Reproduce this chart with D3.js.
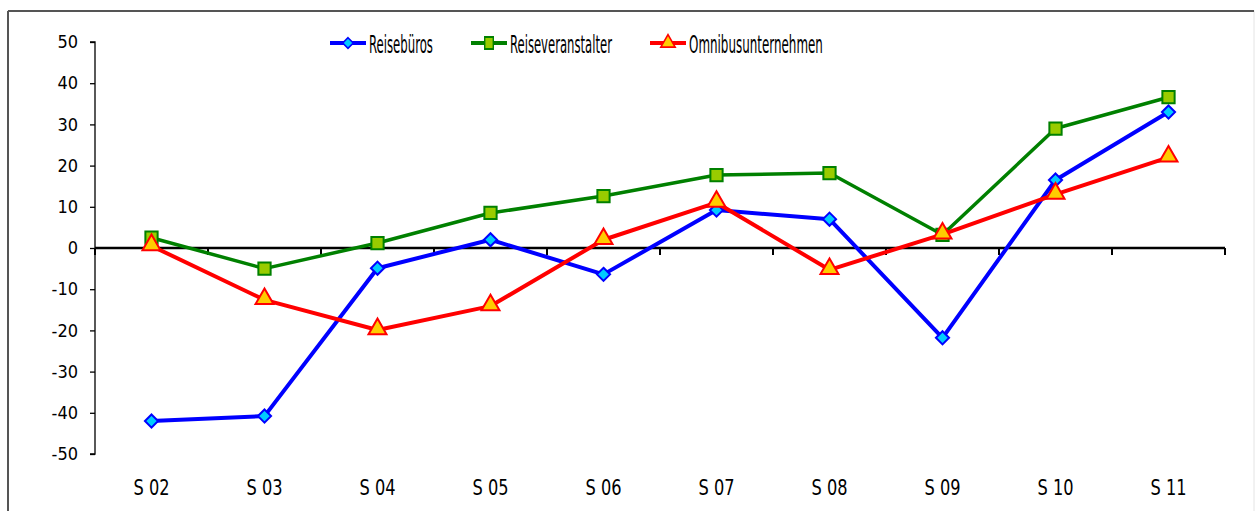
<!DOCTYPE html>
<html lang="de">
<head>
  <meta charset="utf-8">
  <title>Saisonvergleich</title>
  <script src="https://cdn.jsdelivr.net/npm/d3@7/dist/d3.min.js"></script>
  <style>
    body { margin: 0; background: #fff; }
    .narrow { font-family: "DejaVu Sans Condensed", "DejaVu Sans", sans-serif; }
  </style>
</head>
<body>
<svg width="1255" height="511"></svg>
<script>
  // chart data
  var seasons = ["S 02", "S 03", "S 04", "S 05", "S 06", "S 07", "S 08", "S 09", "S 10", "S 11"];
  var reisebueros = [-42, -40.8, -4.9, 2, -6.4, 9.2, 7, -21.8, 16.5, 33];
  var reiseveranstalter = [2.5, -5, 1.2, 8.5, 12.6, 17.7, 18.2, 3.2, 29, 36.6];
  var omnibus = [0.5, -12.6, -19.9, -14.1, 2, 11, -5.3, 3.3, 13, 22];
  var yTicks = [50, 40, 30, 20, 10, 0, -10, -20, -30, -40, -50];

  var series = [
    {name: "Reisebüros", values: reisebueros, color: "#0000ff", fill: "#00ccff", shape: "diamond", width: 4, lx: 330, tl: 64},
    {name: "Reiseveranstalter", values: reiseveranstalter, color: "#008000", fill: "#99cc00", shape: "square", width: 3.5, lx: 471, tl: 102},
    {name: "Omnibusunternehmen", values: omnibus, color: "#ff0000", fill: "#ffcc00", shape: "triangle", width: 4, lx: 650, tl: 134}
  ];

  var svg = d3.select("svg");

  // frame
  svg.append("rect").attr("x", 8).attr("y", 11).attr("width", 1246).attr("height", 520)
      .attr("fill", "none").attr("stroke", "#e4e4e4").attr("stroke-width", 1);
  svg.append("line").attr("x1", 8).attr("x2", 1254).attr("y1", 11).attr("y2", 11)
      .attr("stroke", "#555").attr("stroke-width", 2);
  svg.append("line").attr("x1", 8).attr("x2", 8).attr("y1", 11).attr("y2", 511)
      .attr("stroke", "#555").attr("stroke-width", 2);

  var x = d3.scaleBand().domain(seasons).range([95, 1225]);
  var y = d3.scaleLinear().domain([-50, 50]).range([454, 42]);

  // y axis
  var yAxis = svg.append("g")
      .attr("transform", "translate(95,0)")
      .call(d3.axisLeft(y).tickValues(yTicks).tickSize(5).tickPadding(12).tickFormat(function(d) { return d < 0 ? "-" + Math.abs(d) : d; }));
  yAxis.selectAll("line, path").attr("stroke", "#000").attr("stroke-width", 1.3);
  yAxis.select(".domain").attr("d", "M-5," + y(50) + "H0V" + y(-50) + "H-5");
  yAxis.selectAll("text").attr("font-size", 18).attr("fill", "#000")
      .style("font-family", "'DejaVu Sans Condensed', sans-serif");

  // x axis on the zero line
  var xAxis = svg.append("g")
      .attr("transform", "translate(0," + y(0) + ")")
      .call(d3.axisBottom(x).tickSize(0).tickFormat(""));
  xAxis.select(".domain").attr("d", "M95,0H1225").attr("stroke", "#000").attr("stroke-width", 2.5);
  xAxis.selectAll(".bound").data(seasons.concat(["end"])).enter().append("line")
      .attr("x1", function(d, i) { return 95 + i * x.step(); })
      .attr("x2", function(d, i) { return 95 + i * x.step(); })
      .attr("y1", 0).attr("y2", 7).attr("stroke", "#000").attr("stroke-width", 2);

  // category labels below the plot, squeezed to the narrow look of the original
  svg.append("g").selectAll("text").data(seasons).enter().append("text")
      .attr("class", "narrow")
      .attr("y", 495)
      .attr("font-size", 21)
      .text(function(d) { return d; })
      .each(function(d) {
        var w = this.getComputedTextLength();
        d3.select(this).attr("transform", "translate(" + (x(d) + x.bandwidth() / 2 - 18) + ",0) scale(" + (36 / w) + ",1)");
      });

  var symbols = {
    diamond: d3.symbol().type(d3.symbolDiamond2).size(110),
    square: d3.symbol().type(d3.symbolSquare).size(150),
    triangle: d3.symbol().type(d3.symbolTriangle).size(140)
  };

  var line = d3.line()
      .x(function(d, i) { return x(seasons[i]) + x.bandwidth() / 2; })
      .y(function(d) { return y(d); });

  series.forEach(function(s) {
    var g = svg.append("g");
    g.append("path").datum(s.values)
        .attr("d", line).attr("fill", "none")
        .attr("stroke", s.color).attr("stroke-width", s.width)
        .attr("stroke-linejoin", "round");
    g.selectAll("path.m").data(s.values).enter().append("path")
        .attr("class", "m")
        .attr("d", symbols[s.shape])
        .attr("transform", function(d, i) {
          var dy = s.shape === "triangle" ? -1 : 0;
          return "translate(" + (x(seasons[i]) + x.bandwidth() / 2) + "," + (y(d) + dy) + ")";
        })
        .attr("fill", s.fill).attr("stroke", s.color).attr("stroke-width", 2);
  });

  // legend
  var legend = svg.append("g").selectAll("g").data(series).enter().append("g")
      .attr("transform", function(d) { return "translate(" + d.lx + ",43)"; });
  legend.append("line").attr("x1", 0).attr("x2", 36).attr("y1", 0).attr("y2", 0)
      .attr("stroke", function(d) { return d.color; }).attr("stroke-width", 4);
  legend.append("path")
      .attr("d", function(d) { return symbols[d.shape](); })
      .attr("transform", function(d) { return d.shape === "square" ? "translate(18,0) scale(0.7,1)" : "translate(18,0) scale(0.8)"; })
      .attr("fill", function(d) { return d.fill; })
      .attr("stroke", function(d) { return d.color; }).attr("stroke-width", 2);
  legend.append("text")
      .attr("class", "narrow")
      .attr("y", 1).attr("dy", "0.36em")
      .attr("font-size", 24)
      .text(function(d) { return d.name; })
      .each(function(d) {
        var w = this.getComputedTextLength();
        d3.select(this).attr("transform", "translate(39,0) scale(" + (d.tl / w) + ",1)");
      });
</script>
</body>
</html>
